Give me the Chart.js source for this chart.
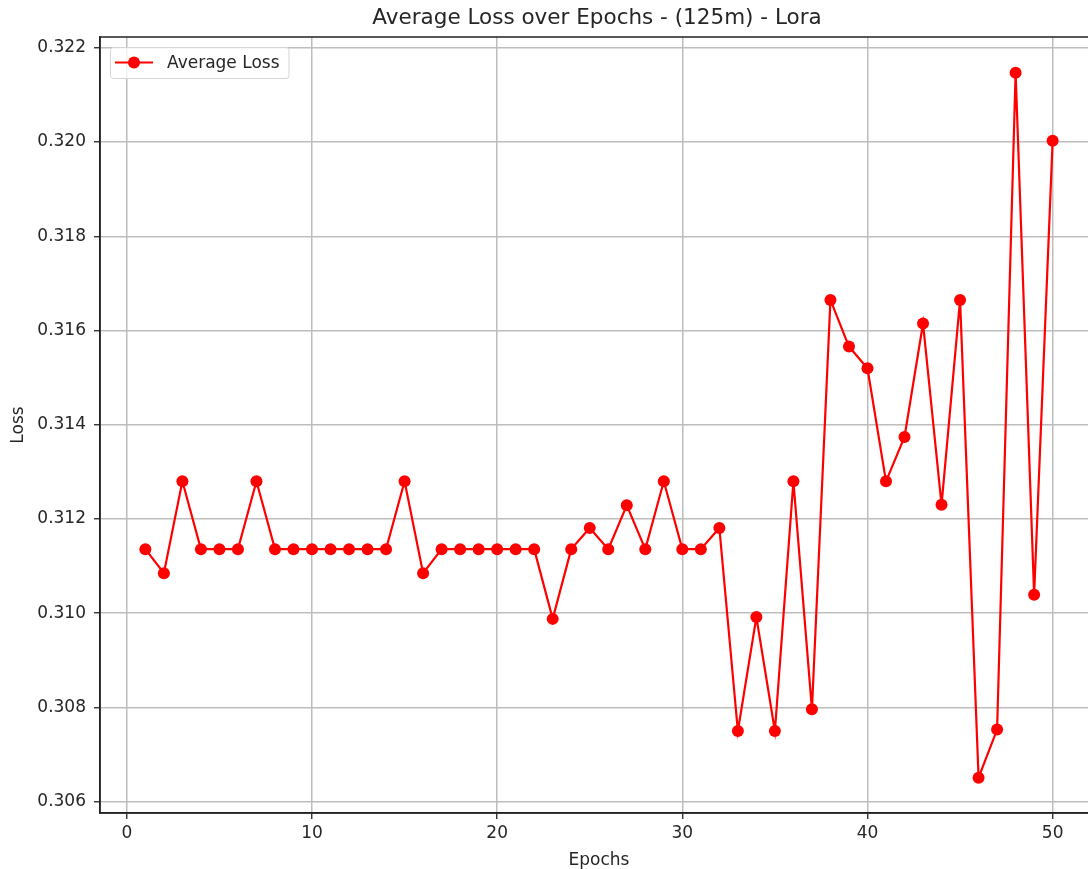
<!DOCTYPE html>
<html>
<head>
<meta charset="utf-8">
<script src="https://cdn.jsdelivr.net/npm/chart.js@4"></script>
<style>
  html, body { margin: 0; padding: 0; background: #fff; overflow: hidden; }
  #wrap { width: 1104px; height: 869px; }
</style>
</head>
<body>
<div id="wrap"><canvas id="lossChart" width="1104" height="869"></canvas></div>
<script>
// values
const epochs = [1, 2, 3, 4, 5, 6, 7, 8, 9, 10,
  11, 12, 13, 14, 15, 16, 17, 18, 19, 20,
  21, 22, 23, 24, 25, 26, 27, 28, 29, 30,
  31, 32, 33, 34, 35, 36, 37, 38, 39, 40,
  41, 42, 43, 44, 45, 46, 47, 48, 49, 50];
const avgLoss = [0.31136, 0.31085, 0.31280, 0.31136, 0.31136, 0.31136, 0.31280, 0.31136, 0.31136, 0.31136,
  0.31136, 0.31136, 0.31136, 0.31136, 0.31280, 0.31085, 0.31136, 0.31136, 0.31136, 0.31136,
  0.31136, 0.31136, 0.30988, 0.31136, 0.31181, 0.31136, 0.31229, 0.31136, 0.31280, 0.31136,
  0.31136, 0.31181, 0.30750, 0.30992, 0.30750, 0.31280, 0.30796, 0.31665, 0.31566, 0.31520,
  0.31280, 0.31374, 0.31615, 0.31230, 0.31665, 0.30651, 0.30753, 0.32147, 0.31039, 0.32003];
const xTicks = [0, 10, 20, 30, 40, 50];
const yTicks = [0.306, 0.308, 0.310, 0.312, 0.314, 0.316, 0.318, 0.320, 0.322];
const chartTitle = 'Average Loss over Epochs - (125m) - Lora';

const FONT = "'DejaVu Sans', sans-serif";
const TEXT = '#262626';
const GRID = '#bdbdbd';
const SPINE = '#222222';

// matplotlib-style frame, title centred over the axes, legend inside the axes
const framePlugin = {
  id: 'frame',
  beforeDatasetsDraw(chart) {
    const { ctx, chartArea: a } = chart;
    ctx.save();
    ctx.strokeStyle = SPINE;
    ctx.lineWidth = 1.5;
    ctx.strokeRect(a.left, a.top, a.right - a.left, a.bottom - a.top);
    ctx.restore();
  },
  afterDraw(chart) {
    const { ctx, chartArea: a } = chart;
    const ds = chart.data.datasets[0];
    ctx.save();
    // title
    ctx.font = '21.5px ' + FONT;
    ctx.fillStyle = TEXT;
    ctx.textAlign = 'center';
    ctx.textBaseline = 'middle';
    ctx.fillText(chartTitle, (a.left + a.right) / 2 - 2, 18);

    // legend
    const x = a.left + 10, y = a.top + 10;
    ctx.font = '17px ' + FONT;
    ctx.textAlign = 'left';
    const w = 58 + ctx.measureText(ds.label).width + 8;
    const h = 31;
    ctx.fillStyle = 'rgba(255,255,255,0.8)';
    ctx.strokeStyle = '#d6d6d6';
    ctx.lineWidth = 1;
    ctx.beginPath();
    ctx.roundRect(x + 0.5, y + 0.5, w, h, 3);
    ctx.fill();
    ctx.stroke();
    const cy = y + h / 2;
    ctx.strokeStyle = ds.borderColor;
    ctx.lineWidth = ds.borderWidth;
    ctx.beginPath();
    ctx.moveTo(x + 5, cy);
    ctx.lineTo(x + 43, cy);
    ctx.stroke();
    ctx.fillStyle = ds.pointBackgroundColor;
    ctx.beginPath();
    ctx.arc(x + 24, cy, ds.pointRadius, 0, Math.PI * 2);
    ctx.fill();
    ctx.fillStyle = TEXT;
    ctx.fillText(ds.label, x + 57, cy + 1);
    ctx.restore();
  }
};

const ctx = document.getElementById('lossChart').getContext('2d');
const lossChart = new Chart(ctx, {
  type: 'line',
  data: {
    datasets: [{
      label: 'Average Loss',
      data: epochs.map((e, i) => ({ x: e, y: avgLoss[i] })),
      borderColor: '#ff0000',
      backgroundColor: '#ff0000',
      pointBackgroundColor: '#ff0000',
      pointBorderColor: '#ff0000',
      pointBorderWidth: 0,
      pointRadius: 6,
      borderWidth: 2.2,
      tension: 0,
      fill: false
    }]
  },
  options: {
    responsive: false,
    animation: false,
    layout: { padding: { left: 0, right: 3, top: 37, bottom: 0 } },
    plugins: {
      legend: { display: false },
      tooltip: { enabled: false },
      title: { display: false }
    },
    scales: {
      x: {
        type: 'linear',
        min: -1.45,
        max: 52.45,
        afterFit: s => { s.height = 56; },
        afterBuildTicks: s => { s.ticks = xTicks.map(v => ({ value: v })); },
        grid: { color: GRID, lineWidth: 1.5, tickLength: 6, tickColor: SPINE, tickWidth: 1.3 },
        border: { color: SPINE, width: 1.5 },
        ticks: { color: TEXT, font: { family: FONT, size: 17 }, padding: 4, maxRotation: 0 },
        title: { display: true, text: 'Epochs', color: TEXT, font: { family: FONT, size: 17 }, padding: { top: 0, bottom: -2 } }
      },
      y: {
        min: 0.30576,
        max: 0.32223,
        afterFit: s => { s.width = 100; },
        afterBuildTicks: s => { s.ticks = yTicks.map(v => ({ value: v })); },
        grid: { color: GRID, lineWidth: 1.5, tickLength: 6, tickColor: SPINE, tickWidth: 1.3 },
        border: { color: SPINE, width: 1.5 },
        ticks: { color: TEXT, font: { family: FONT, size: 17 }, padding: 8, callback: v => v.toFixed(3) },
        title: { display: true, text: 'Loss', color: TEXT, font: { family: FONT, size: 17 }, padding: { top: 8, bottom: 0 } }
      }
    }
  },
  plugins: [framePlugin]
});
</script>
</body>
</html>
